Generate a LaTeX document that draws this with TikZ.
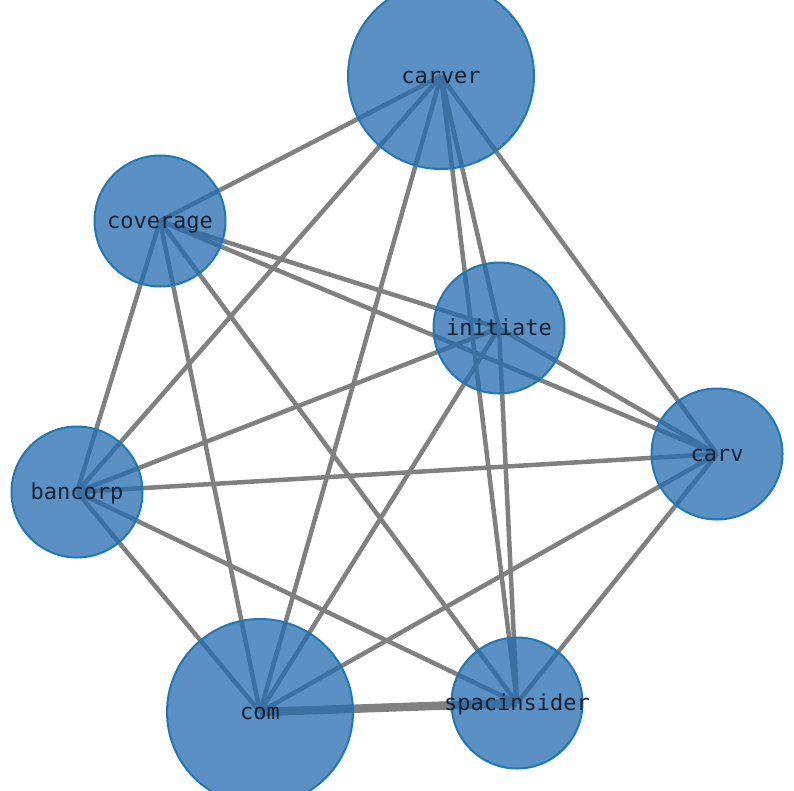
\documentclass[tikz,border=0pt]{standalone}
\usepackage{fontspec}
\setmonofont{DejaVu Sans Mono}
\usetikzlibrary{backgrounds}
\definecolor{nodeblue}{HTML}{1F77B4}
\definecolor{nodefill}{RGB}{36,107,176}
\definecolor{edgegray}{RGB}{128,128,128}
\definecolor{labelink}{RGB}{26,34,48}
\newcommand{\zlabel}[1]{\makebox[0pt]{\smash{\raisebox{-7pt}{#1}}}}
\tikzset{
  vbig/.style={circle, draw=nodeblue, line width=2pt, fill=nodefill, fill opacity=0.75, text opacity=1,
    minimum size=186pt, inner sep=0pt, text=labelink, font=\ttfamily\fontsize{22}{24}\selectfont},
  vsmall/.style={vbig, minimum size=131pt},
  link/.style={draw=edgegray, line width=4.5pt},
  heavylink/.style={draw=edgegray, line width=8.5pt}
}
\begin{document}
\begin{tikzpicture}[x=1pt,y=-1pt]
\useasboundingbox (0,0) rectangle (794,790);
\clip (0,0) rectangle (794,790);
\node[vbig]   (carver)      at (441,76)  {\zlabel{carver}};
\node[vsmall] (coverage)    at (160,221) {\zlabel{coverage}};
\node[vsmall] (initiate)    at (499,328) {\zlabel{initiate}};
\node[vsmall] (carv)        at (717,454) {\zlabel{carv}};
\node[vsmall] (bancorp)     at (77,492)  {\zlabel{bancorp}};
\node[vbig]   (com)         at (260,712) {\zlabel{com}};
\node[vsmall] (spacinsider) at (517,703) {\zlabel{spacinsider}};
\begin{pgfonlayer}{background}
\draw[link] (carver.center) -- (coverage.center);
\draw[link] (carver.center) -- (bancorp.center);
\draw[link] (carver.center) -- (com.center);
\draw[link] (carver.center) -- (initiate.center);
\draw[link] (carver.center) -- (spacinsider.center);
\draw[link] (carver.center) -- (carv.center);
\draw[link] (coverage.center) -- (initiate.center);
\draw[link] (coverage.center) -- (carv.center);
\draw[link] (coverage.center) -- (bancorp.center);
\draw[link] (coverage.center) -- (com.center);
\draw[link] (coverage.center) -- (spacinsider.center);
\draw[link] (initiate.center) -- (bancorp.center);
\draw[link] (initiate.center) -- (carv.center);
\draw[link] (initiate.center) -- (com.center);
\draw[link] (initiate.center) -- (spacinsider.center);
\draw[link] (bancorp.center) -- (carv.center);
\draw[link] (bancorp.center) -- (com.center);
\draw[link] (bancorp.center) -- (spacinsider.center);
\draw[link] (com.center) -- (carv.center);
\draw[heavylink] (com.center) -- (spacinsider.center);
\draw[link] (spacinsider.center) -- (carv.center);
\end{pgfonlayer}
\end{tikzpicture}
\end{document}
